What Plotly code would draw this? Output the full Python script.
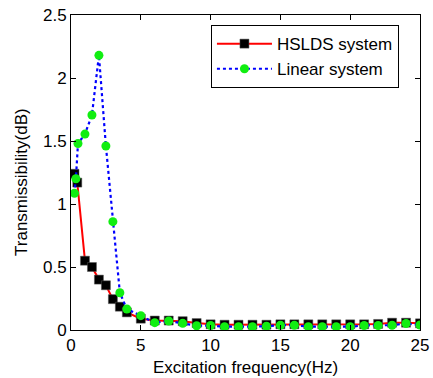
import plotly.graph_objects as go

# HSLDS system
hslds_x = [0.25, 0.45, 1, 1.5, 2, 2.5, 3, 3.5, 4, 5, 6, 7, 8, 9, 10, 11, 12, 13, 14, 15,
           16, 17, 18, 19, 20, 21, 22, 23, 24, 25]
hslds_y = [1.24, 1.17, 0.55, 0.50, 0.40, 0.355, 0.245, 0.185, 0.14, 0.09, 0.075, 0.075, 0.07,
           0.055, 0.045, 0.042, 0.042, 0.042, 0.042, 0.045, 0.045, 0.045, 0.045, 0.045, 0.045,
           0.045, 0.048, 0.058, 0.058, 0.053]

# Linear system
lin_x = [0.25, 0.35, 0.5, 1, 1.5, 2, 2.5, 3, 3.5, 4, 5, 6, 7, 8, 9, 10, 11, 12, 13, 14, 15,
         16, 17, 18, 19, 20, 21, 22, 23, 24, 25]
lin_y = [1.085, 1.20, 1.48, 1.555, 1.706, 2.18, 1.46, 0.86, 0.296, 0.167, 0.114, 0.058, 0.071,
         0.053, 0.034, 0.036, 0.026, 0.026, 0.026, 0.03, 0.038, 0.038, 0.026, 0.026, 0.026,
         0.026, 0.036, 0.036, 0.038, 0.052, 0.04]

x_ticks = [0, 5, 10, 15, 20, 25]
y_ticks = [0, 0.5, 1, 1.5, 2, 2.5]
y_tick_labels = ["0", "0.5", "1", "1.5", "2", "2.5"]

FONT = "Liberation Sans, Arial, sans-serif"

fig = go.Figure()
fig.add_trace(go.Scatter(
    x=hslds_x, y=hslds_y, mode="lines+markers", name="HSLDS system",
    line=dict(color="#ff0000", width=2),
    marker=dict(symbol="square", size=9, color="#000000",
                line=dict(color="#555555", width=0.5)),
))
fig.add_trace(go.Scatter(
    x=lin_x, y=lin_y, mode="lines+markers", name="Linear system",
    line=dict(color="#0000ff", width=2.2, dash="dot"),
    marker=dict(symbol="circle", size=9, color="#11ee11"),
))

axis_common = dict(
    showline=True, linecolor="black", linewidth=1, mirror="ticks",
    ticks="inside", ticklen=5, tickcolor="black", tickwidth=1,
    showgrid=False, zeroline=False, automargin=False,
    tickfont=dict(family=FONT, size=17, color="black"),
)

fig.update_xaxes(range=[0, 25], tickvals=x_ticks, ticktext=[str(v) for v in x_ticks],
                 **axis_common)
fig.update_yaxes(range=[0, 2.5], tickvals=y_ticks, ticktext=y_tick_labels,
                 **axis_common)

fig.add_annotation(text="Excitation frequency(Hz)", xref="paper", yref="paper",
                   x=0.5, y=0, yshift=-37, xanchor="center", yanchor="middle",
                   showarrow=False, font=dict(family=FONT, size=17, color="black"))
fig.add_annotation(text="Transmissibility(dB)", xref="paper", yref="paper",
                   x=0, y=0.47, xshift=-49, xanchor="center", yanchor="middle",
                   textangle=-90, showarrow=False,
                   font=dict(family=FONT, size=17, color="black"))

fig.update_layout(
    width=433, height=378,
    margin=dict(l=71, r=13, t=15, b=48, autoexpand=False),
    paper_bgcolor="white", plot_bgcolor="white",
    showlegend=True,
    legend=dict(
        x=0.401, y=0.968, xanchor="left", yanchor="top",
        bgcolor="white", bordercolor="black", borderwidth=1,
        font=dict(family=FONT, size=17, color="black"),
        itemwidth=55, tracegroupgap=0,
    ),
    font=dict(family=FONT, color="black"),
)

fig.write_html("out.html", config={"displayModeBar": False},
               post_script="document.body.style.margin='0';document.body.style.padding='0';")
